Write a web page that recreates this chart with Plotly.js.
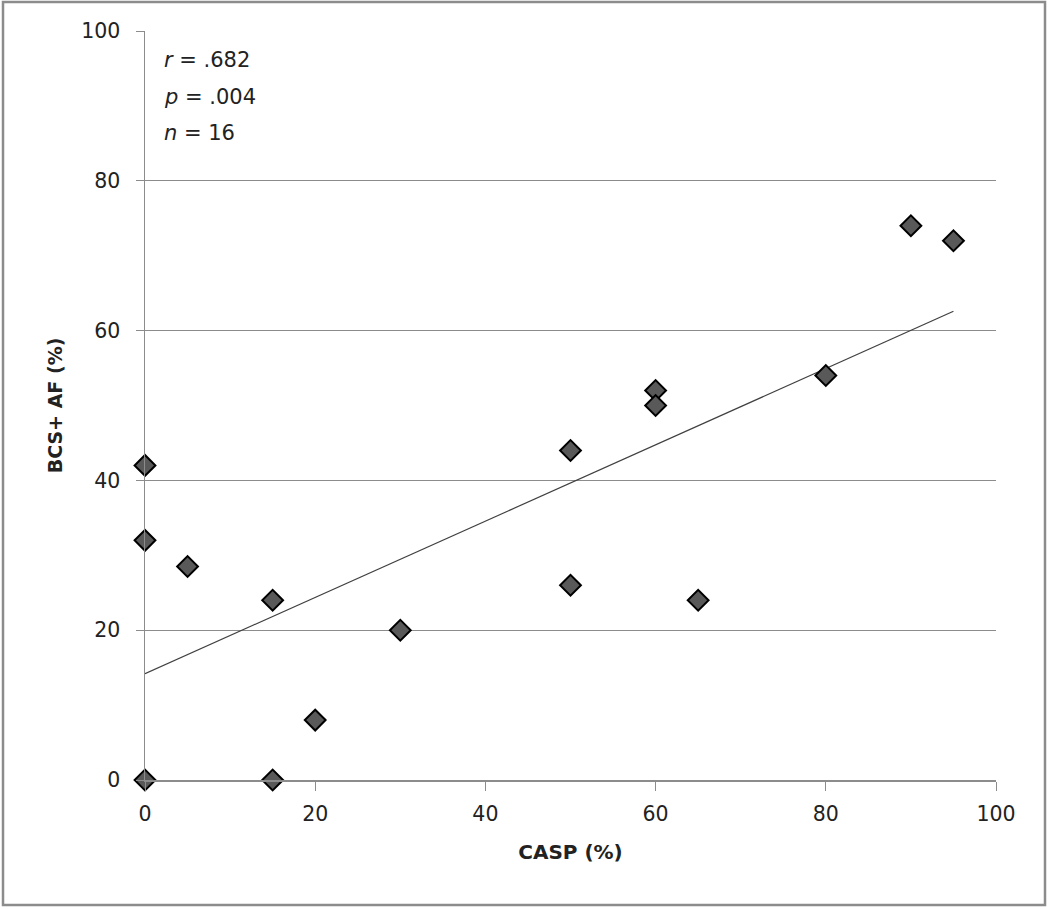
<!DOCTYPE html>
<html>
<head>
<meta charset="utf-8">
<script src="https://cdn.plot.ly/plotly-3.0.1.min.js"></script>
<style>
  body { margin: 0; background: #fff; }
  #chart { width: 1050px; height: 909px; }
</style>
</head>
<body>
<div id="chart"></div>
<script>
// CASP (%) vs BCS+ AF (%)
var casp = [0, 0, 0, 5, 15, 15, 20, 30, 50, 50, 60, 60, 65, 80, 90, 95];
var bcsAf = [42, 32, 0, 28.5, 24, 0, 8, 20, 44, 26, 52, 50, 24, 54, 74, 72];
var statLabels = ['<i>r</i> = .682', '<i>p</i> = .004', '<i>n</i> = 16'];
var tickVals = [0, 20, 40, 60, 80, 100];

// least squares trend line
function fitLine(x, y){
  var n = x.length, sx = 0, sy = 0, sxx = 0, sxy = 0;
  for (var i = 0; i < n; i++){
    sx += x[i]; sy += y[i]; sxx += x[i]*x[i]; sxy += x[i]*y[i];
  }
  var b = (n*sxy - sx*sy) / (n*sxx - sx*sx);
  var a = (sy - b*sx) / n;
  return {a: a, b: b};
}
var fit = fitLine(casp, bcsAf);
var xMin = Math.min.apply(null, casp), xMax = Math.max.apply(null, casp);

var font = 'DejaVu Sans, Liberation Sans, sans-serif';

var trend = {
  x: [xMin, xMax],
  y: [fit.a + fit.b*xMin, fit.a + fit.b*xMax],
  mode: 'lines',
  line: {color: '#404040', width: 1.2},
  hoverinfo: 'skip'
};
var points = {
  x: casp,
  y: bcsAf,
  mode: 'markers',
  marker: {
    symbol: 'diamond',
    size: 16,
    color: '#595959',
    line: {color: '#000000', width: 2}
  },
  cliponaxis: false
};

var annotations = statLabels.map(function(t, i){
  return {
    text: t,
    xref: 'paper', yref: 'paper',
    x: 0.02, y: (780 - 60 - i*36.5) / 749,
    xanchor: 'left', yanchor: 'middle',
    showarrow: false,
    font: {family: font, size: 21, color: '#222'}
  };
});

var layout = {
  width: 1050,
  height: 909,
  margin: {l: 145, r: 54, t: 31, b: 129},
  paper_bgcolor: '#ffffff',
  plot_bgcolor: '#ffffff',
  showlegend: false,
  font: {family: font, size: 20.5, color: '#222'},
  xaxis: {
    title: {text: '<b>CASP (%)</b>', font: {family: font, size: 20, color: '#222'}, standoff: 20},
    range: [0, 100],
    tickvals: tickVals,
    showgrid: false,
    zeroline: false,
    showline: true,
    linecolor: '#8c8c8c',
    linewidth: 1.5,
    ticks: 'outside',
    ticklen: 9,
    tickcolor: '#8c8c8c',
    ticklabelstandoff: 6
  },
  yaxis: {
    title: {text: '<b>BCS+ AF (%)</b>', font: {family: font, size: 19, color: '#222'}, standoff: 13},
    range: [0, 100],
    tickvals: tickVals,
    showgrid: true,
    gridcolor: '#8c8c8c',
    gridwidth: 1.2,
    zeroline: false,
    showline: true,
    linecolor: '#8c8c8c',
    linewidth: 1.5,
    ticks: 'outside',
    ticklen: 8,
    tickcolor: '#8c8c8c',
    ticklabelstandoff: 11
  },
  annotations: annotations,
  shapes: [{
    type: 'rect',
    xref: 'paper', yref: 'paper',
    x0: (3 - 145) / 851, x1: (1045 - 145) / 851,
    y0: (780 - 905) / 749, y1: (780 - 2) / 749,
    line: {color: '#8c8c8c', width: 2.5},
    fillcolor: 'rgba(0,0,0,0)'
  }]
};

Plotly.newPlot('chart', [trend, points], layout, {displayModeBar: false, staticPlot: true});
</script>
</body>
</html>
